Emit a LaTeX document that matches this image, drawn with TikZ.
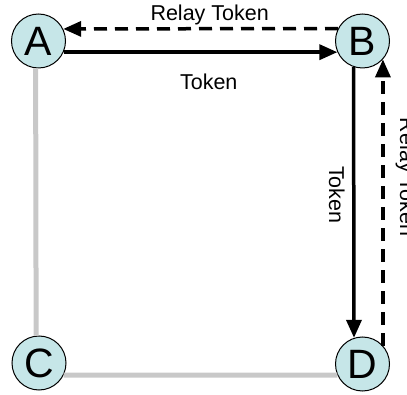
\documentclass[tikz,border=0pt]{standalone}
\usepackage{fontspec}
\setmainfont{Liberation Sans}
\usetikzlibrary{arrows.meta}
\definecolor{stationfill}{RGB}{198,230,232}
\definecolor{ringgray}{RGB}{200,200,200}
\begin{document}
\begin{tikzpicture}[x=1pt,y=-1pt,
        station/.style={circle, draw, line width=1pt, fill=stationfill, minimum size=54pt, inner sep=0pt, font=\fontsize{41}{45}\selectfont},
        pass/.style={-{Triangle[length=18pt,width=15pt]}, line width=3.5pt},
        relay/.style={pass, dash pattern=on 13pt off 8pt},
        ring/.style={ringgray, line width=5pt},
        lbl/.style={inner sep=0pt, font=\fontsize{21.5}{23}\selectfont}]
        \useasboundingbox (0,0) rectangle (407,395);
        %%%%%%%%%% Nodes %%%%%%%%%%
        \node[station] (A) at (38.5,41) {A};
        \node[station] (B) at (362.5,41) {B};
        \node[station] (C) at (39,363) {C};
        \node[station] (D) at (362.5,364) {D};

        %%%%%%%%%% Links %%%%%%%%%%
        \draw[ring] (A.264.7) -- (C.96.4);
        \draw[ring] (C.-26.4) -- (D.204);
        \draw[pass] (A.-24) -- node[lbl, pos=.53, below=20.3pt] {Token} (B.204);
        \draw[relay] (B.153.6) -- node[lbl, pos=.467, above=2.2pt] {Relay Token} (A.26.4);
        \draw[pass] (B.251.65) -- node[lbl, pos=.472, anchor=north, xshift=-7.3pt, rotate=-90] {Token} (D.108.35);
        \draw[relay] (D.42.2) -- node[lbl, pos=.589, anchor=south, xshift=11pt, rotate=-90] {Relay Token} (B.-42.2);
    \end{tikzpicture}
\end{document}
